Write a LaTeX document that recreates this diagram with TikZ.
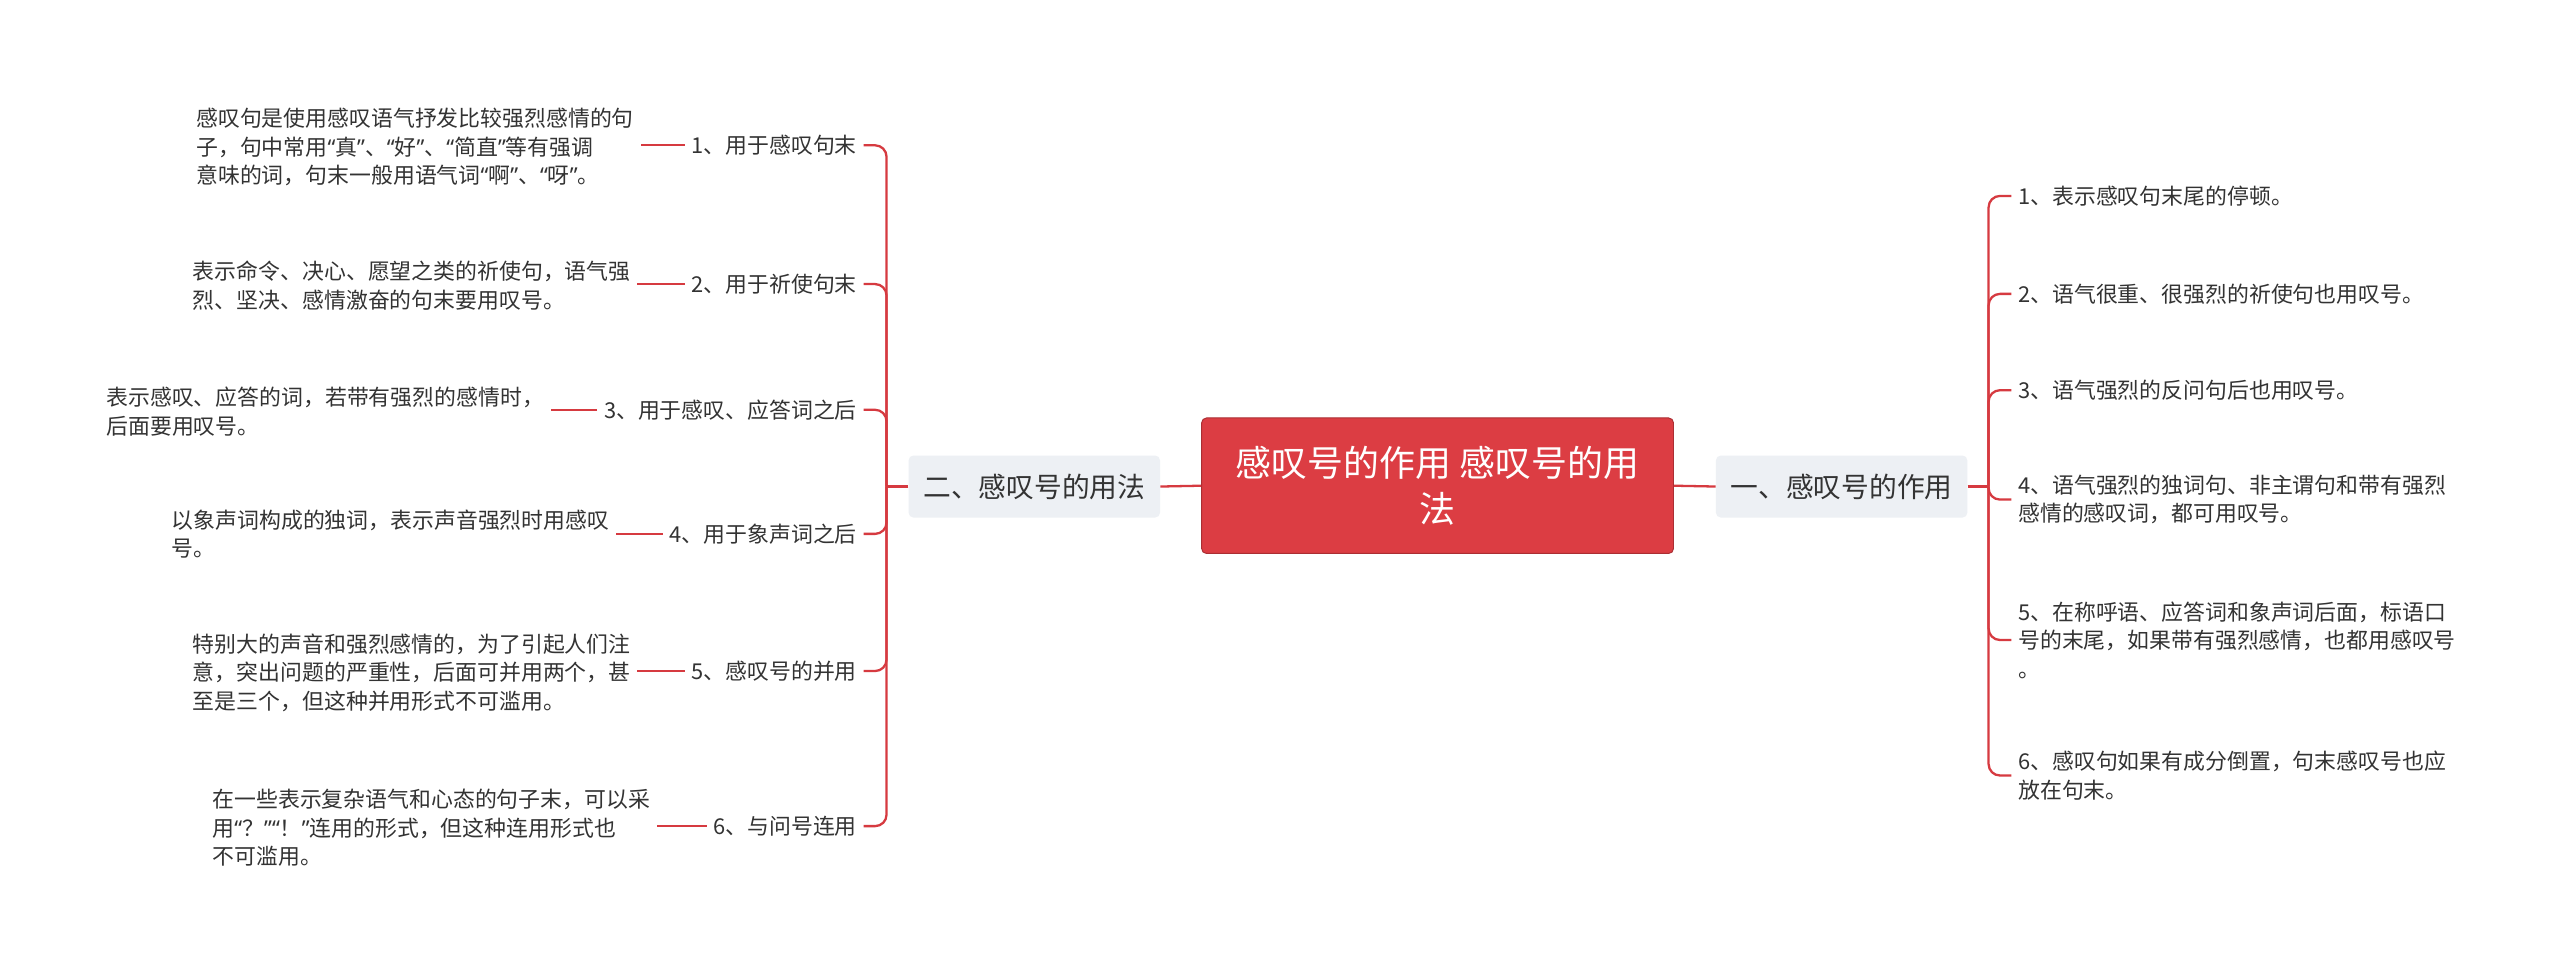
\documentclass[tikz,border=0pt]{standalone}
\usepackage{fontspec}
\setmainfont{Noto Sans CJK SC}
\newfontfamily\latf{Noto Sans}
\newcommand{\qL}{{\latf “}}
\newcommand{\qR}{{\latf ”}}
\definecolor{lred}{HTML}{D63A40}
\definecolor{cfill}{HTML}{DC3D43}
\definecolor{gbox}{HTML}{EDF0F4}
\definecolor{txt}{HTML}{333333}
\begin{document}
\begin{tikzpicture}[x=1pt,y=-1pt,
  leaf/.style={inner xsep=4pt,inner ysep=0pt,align=left,font=\fontsize{13.4}{17.5}\selectfont,text=txt},
  lab/.style={inner xsep=4pt,inner ysep=0pt,font=\fontsize{13.4}{17.5}\selectfont,text=txt},
  branch/.style={fill=gbox,rounded corners=3pt,minimum width=154pt,minimum height=38pt,font=\fontsize{17}{20}\selectfont,text=txt},
  con/.style={draw=lred,line width=1.4pt}]
\useasboundingbox (0,0) rectangle (1568,596);
\fill[white] (0,0) rectangle (1568,596);
\node[fill=cfill,draw=lred!80!black,line width=0.6pt,rounded corners=3pt,minimum width=289pt,minimum height=83pt,text=white,align=center,font=\fontsize{22}{28}\selectfont] (c) at (880.5,297.5) {感叹号的作用 感叹号的用\\法};
\node[branch] (r) at (1128,298) {一、感叹号的作用};
\node[branch] (l) at (633.5,298) {二、感叹号的用法};
\draw[con] (c.east) -- (r.west);
\draw[con] (c.west) -- (l.east);
% right leaves
\node[leaf,anchor=west] (r1) at (1232,120) {1、表示感叹句末尾的停顿。};
\node[leaf,anchor=west] (r2) at (1232,180) {2、语气很重、很强烈的祈使句也用叹号。};
\node[leaf,anchor=west] (r3) at (1232,239) {3、语气强烈的反问句后也用叹号。};
\node[leaf,anchor=west] (r4) at (1232,306) {4、语气强烈的独词句、非主谓句和带有强烈\\感情的感叹词，都可用叹号。};
\node[leaf,anchor=west] (r5) at (1232,392) {5、在称呼语、应答词和象声词后面，标语口\\号的末尾，如果带有强烈感情，也都用感叹号\\。};
\node[leaf,anchor=west] (r6) at (1232,475) {6、感叹句如果有成分倒置，句末感叹号也应\\放在句末。};
\draw[con] (r.east) -- (1218,298) coordinate (rb);
\foreach \n in {r1,r2,r3,r4,r5,r6} \draw[con,rounded corners=7pt] (rb) |- (\n.west);
% left labels
\node[lab,anchor=east] (a1) at (529,89) {1、用于感叹句末};
\node[lab,anchor=east] (a2) at (529,174) {2、用于祈使句末};
\node[lab,anchor=east] (a3) at (529,251) {3、用于感叹、应答词之后};
\node[lab,anchor=east] (a4) at (529,327) {4、用于象声词之后};
\node[lab,anchor=east] (a5) at (529,411) {5、感叹号的并用};
\node[lab,anchor=east] (a6) at (529,506) {6、与问号连用};
\draw[con] (l.west) -- (543,298) coordinate (lb);
\foreach \n in {a1,a2,a3,a4,a5,a6} \draw[con,rounded corners=7pt] (lb) |- (\n.east);
% left leaves
\node[leaf,anchor=west] (b1) at (116,90) {感叹句是使用感叹语气抒发比较强烈感情的句\\子，句中常用\qL 真\qR 、\qL 好\qR 、\qL 简直\qR 等有强调\\意味的词，句末一般用语气词\qL 啊\qR 、\qL 呀\qR 。};
\node[leaf,anchor=west] (b2) at (114,175) {表示命令、决心、愿望之类的祈使句，语气强\\烈、坚决、感情激奋的句末要用叹号。};
\node[leaf,anchor=west] (b3) at (61,252) {表示感叹、应答的词，若带有强烈的感情时，\\后面要用叹号。};
\node[leaf,anchor=west] (b4) at (101,327) {以象声词构成的独词，表示声音强烈时用感叹\\号。};
\node[leaf,anchor=west] (b5) at (114,412) {特别大的声音和强烈感情的，为了引起人们注\\意，突出问题的严重性，后面可并用两个，甚\\至是三个，但这种并用形式不可滥用。};
\node[leaf,anchor=west] (b6) at (126,507) {在一些表示复杂语气和心态的句子末，可以采\\用\qL ？\qR\qL ！\qR 连用的形式，但这种连用形式也\\不可滥用。};
\foreach \i in {1,...,6} \draw[con] (a\i.west) -- (a\i.west -| b\i.east);
\end{tikzpicture}
\end{document}
